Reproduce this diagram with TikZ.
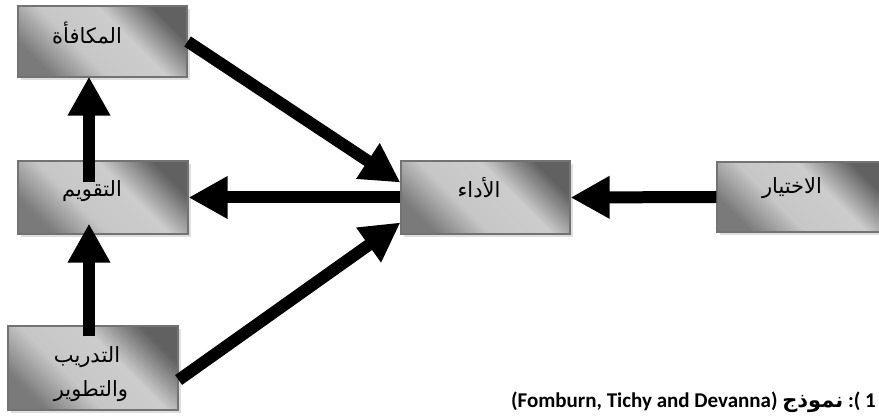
\documentclass[tikz,border=0pt]{standalone}
\usepackage{fontspec}
\setmainfont{Carlito}
\newfontfamily\arabicfont[Script=Arabic]{DejaVu Sans}
\TeXXeTstate=1
\usetikzlibrary{calc,arrows.meta,shadows,shadings}

\pgfdeclareverticalshading{hrshade}{100bp}{color(0bp)=(black!52); color(25bp)=(black!52);
  color(41bp)=(black!22); color(59bp)=(black!20); color(75bp)=(black!62); color(100bp)=(black!62)}

\tikzset{
  hrbox/.style={rectangle, draw=black!55, line width=1.2pt,
    shading=hrshade, shading angle=-45,
    drop shadow={shadow xshift=3pt, shadow yshift=-3pt, fill=black!25}},
  hrtext/.style={font=\arabicfont\fontsize{21}{34}\selectfont, inner sep=0pt},
  hrarrow/.style={line width=12pt, -{Triangle[width=40pt,length=39pt]}}
}

\begin{document}
\begin{tikzpicture}[x=1pt, y=-1pt]
			%%%%% START %%%%%
			\useasboundingbox (0, 0) rectangle (879, 419);
			
			% boxes
			\node[hrbox, minimum width=169pt, minimum height=71pt] (reward) at (102.5, 41.5) {};
			\node[hrbox, minimum width=170pt, minimum height=73pt] (eval) at (103, 197.5) {};
			\node[hrbox, minimum width=169pt, minimum height=73pt] (perf) at (485.5, 197.5) {};
			\node[hrbox, minimum width=169pt, minimum height=70pt] (select) at (801.5, 197) {};
			\node[hrbox, minimum width=170pt, minimum height=84pt] (train) at (93, 368) {};
			
			% labels
			\node[hrtext] (rewardtxt) at (87, 33) {\beginR المكافأة\endR};
			\node[hrtext] (evaltxt) at (92, 191) {\beginR التقويم\endR};
			\node[hrtext] (perftxt) at (479, 188) {\beginR الأداء\endR};
			\node[hrtext] (selecttxt) at (792, 188) {\beginR الاختيار\endR};
			\node[hrtext, align=left] (traintxt) at (91, 374) {\beginR التدريب\endR\\\beginR والتطوير\endR};
			
			% arrows
			\draw[hrarrow] (reward.east) -- ($(perf.west)+(0, -15)$);
			\draw[hrarrow] (perf.west) -- (eval.east);
			\draw[hrarrow] (select.west) -- (perf.east);
			\draw[hrarrow] ($(train.east)+(0, 12)$) -- ($(perf.west)+(0, 25)$);
			\draw[hrarrow] ($(train.north)+(-4, 11)$) -- ($(eval.south)+(-14, -11)$);
			\draw[hrarrow] ($(eval.north)+(-14, 22)$) -- ($(reward.south)+(-13.5, -1)$);
			
			% caption
			\node[anchor=base east, font=\bfseries\fontsize{21}{24}\selectfont, inner sep=0pt] (caption) at (876, 408)
			  {(Fomburn, Tichy and Devanna) {\arabicfont\bfseries\beginR نموذج\endR} :( 1};
			
			%%%%% END %%%%%
\end{tikzpicture}
\end{document}
